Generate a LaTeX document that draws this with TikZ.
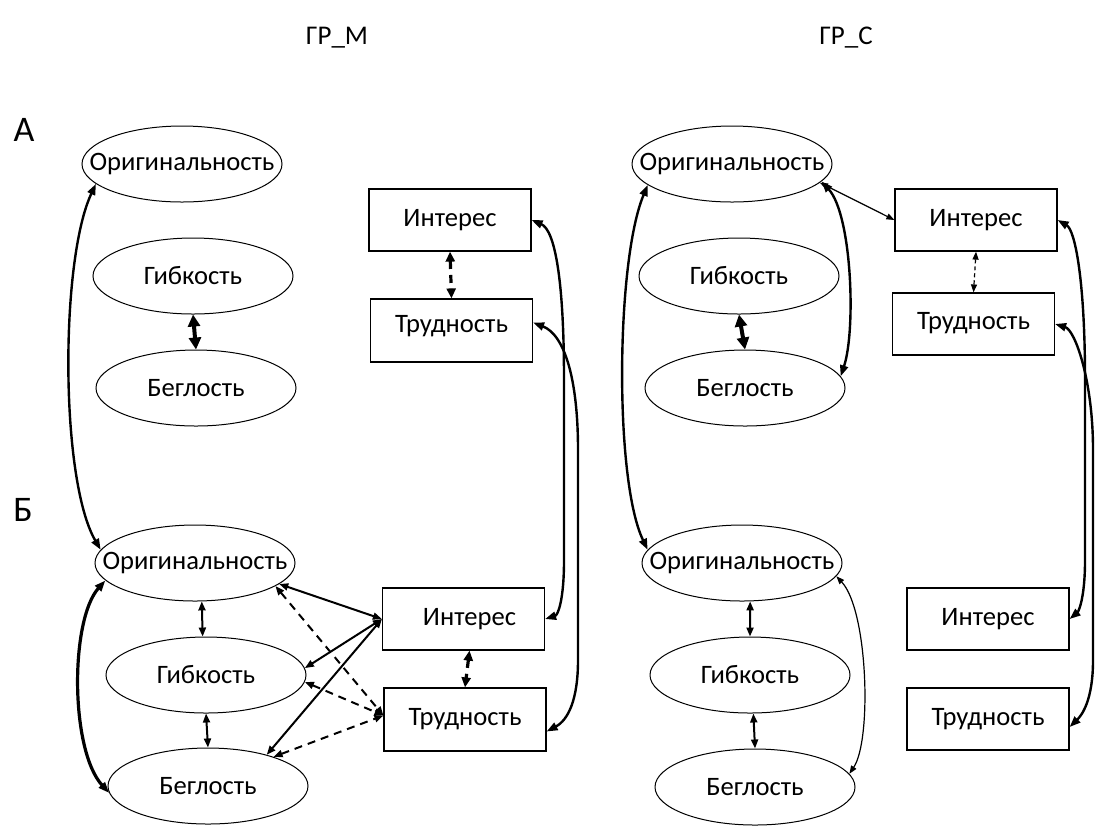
\documentclass[tikz,border=0pt]{standalone}
\usepackage{fontspec}
\setmainfont{Carlito}
\usetikzlibrary{arrows.meta,shapes.geometric}
\begin{document}
\begin{tikzpicture}[x=0.5pt,y=-0.5pt,
  ell/.style={draw, line width=0.5pt, ellipse, minimum width=100pt, minimum height=38pt, inner sep=0pt, font=\fontsize{13.3}{15}\selectfont},
  box/.style={draw, line width=0.6pt, rectangle, minimum width=81pt, minimum height=31pt, inner sep=0pt, font=\fontsize{13.3}{15}\selectfont},
  arc/.style={line width=1.2pt, <->, >={Triangle[length=5.5pt,width=4pt]}},
  thinarc/.style={line width=0.6pt, <->, >={Triangle[length=4pt,width=3pt]}},
  fat/.style={line width=2pt, <->, >={Triangle[length=6pt,width=6pt]}},
  mid/.style={line width=1pt, <->, >={Triangle[length=4.5pt,width=3.5pt]}},
  dsh/.style={mid, dash pattern=on 4pt off 3pt},
  ttl/.style={font=\fontsize{13.5}{15}\selectfont},
  lbl/.style={font=\fontsize{18}{20}\selectfont}
]
\useasboundingbox (0,0) rectangle (1095,827);

% titles
\node[ttl] (tM) at (337,38) {ГР\_М};
\node[ttl] (tC) at (846,38) {ГР\_С};
\node[lbl] (lA) at (24,130) {А};
\node[lbl] (lB) at (23,510) {Б};

% left top
\node[ell] (ltO) at (182,164) {\makebox[0pt]{Оригинальность}};
\node[ell] (ltG) at (193,276) {\makebox[0pt]{Гибкость}};
\node[ell] (ltB) at (196,388) {\makebox[0pt]{Беглость}};
\node[box] (ltI) at (450,220) {Интерес};
\node[box, minimum height=31.5pt] (ltT) at (451.5,330.5) {\raisebox{6.5pt}{Трудность}};

% left bottom
\node[ell] (lbO) at (195,563) {\makebox[0pt]{Оригинальность}};
\node[ell] (lbG) at (206,675) {\makebox[0pt]{Гибкость}};
\node[ell] (lbB) at (208,786) {\makebox[0pt]{Беглость}};
\node[box] (lbI) at (463.5,619) {\hspace*{6pt}Интерес};
\node[box, minimum height=31.5pt] (lbT) at (465,719.5) {\raisebox{3pt}{Трудность}};

% right top
\node[ell] (rtO) at (732,164) {\makebox[0pt]{Оригинальность}};
\node[ell] (rtG) at (739,276) {\makebox[0pt]{Гибкость}};
\node[ell] (rtB) at (745,388) {\makebox[0pt]{Беглость}};
\node[box] (rtI) at (976,220) {Интерес};
\node[box] (rtT) at (973.5,324) {\raisebox{3.5pt}{Трудность}};

% right bottom
\node[ell] (rbO) at (742,563) {\makebox[0pt]{Оригинальность}};
\node[ell] (rbG) at (750,675) {\makebox[0pt]{Гибкость}};
\node[ell] (rbB) at (755,787) {\makebox[0pt]{Беглость}};
\node[box] (rbI) at (988,619) {Интерес};
\node[box] (rbT) at (988,719) {\raisebox{2pt}{Трудность}};

% ---- left panel connectors
\draw[fat] (ltG.south) -- (ltB.north);
\draw[dsh, line width=1.6pt, >={Triangle[length=5pt,width=4.5pt]}] (ltI.south) -- (ltT.north);
\draw[arc] (ltO.193) .. controls (60,260) and (60,480) .. (lbO.172);
\draw[arc] (ltI.east) .. controls (555,230) and (564,280) .. (564,380) -- (564,560) .. controls (564,600) and (558,615) .. (lbI.east);
\draw[arc] ([yshift=4pt]ltT.east) .. controls (565,335) and (578,380) .. (578,450) -- (578,660) .. controls (578,700) and (568,720) .. ([yshift=-6pt]lbT.east);
\draw[arc, line width=1.6pt] (lbO.191) .. controls (70,620) and (70,750) .. (lbB.184);

\draw[mid] (lbO.-80) -- (lbG.95);
\draw[mid] (lbG.-90) -- (lbB.90);
\draw[mid] (lbO.-14) -- (lbI.west);
\draw[mid] (lbI.west) -- (lbG.4);
\draw[mid] (lbI.west) -- (lbB.28);
\draw[dsh] (lbO.-16) -- ([yshift=2pt]lbT.west);
\draw[dsh] (lbG.-4) -- ([yshift=2pt]lbT.west);
\draw[dsh] (lbB.24) -- ([yshift=2pt]lbT.west);
\draw[dsh, line width=1.6pt, >={Triangle[length=5pt,width=4.5pt]}] ([xshift=3pt]lbI.south) -- (lbT.north);

% ---- right panel connectors
\draw[fat] (rtG.south) -- (rtB.north);
\draw[arc] (rtO.-11) .. controls (852,215) and (856,330) .. (rtB.7);
\draw[thinarc] (rtO.-12) -- (rtI.west);
\draw[thinarc, dash pattern=on 2pt off 1.5pt] (rtI.south) -- (rtT.north);
\draw[arc] (rtI.east) .. controls (1075,230) and (1085,280) .. (1085,380) -- (1085,560) .. controls (1085,600) and (1078,612) .. (rbI.east);
\draw[arc] (rtT.east) .. controls (1075,330) and (1093,380) .. (1093,450) -- (1093,660) .. controls (1093,700) and (1082,715) .. ([yshift=-4pt]rbT.east);
\draw[arc] (rtO.194) .. controls (616,260) and (614,480) .. (rbO.172);

\draw[mid] (rbO.-78) -- (rbG.90);
\draw[mid] (rbG.-85) -- (rbB.90);
\draw[thinarc] (rbO.-8) .. controls (868,610) and (872,740) .. (rbB.8);
\end{tikzpicture}
\end{document}
